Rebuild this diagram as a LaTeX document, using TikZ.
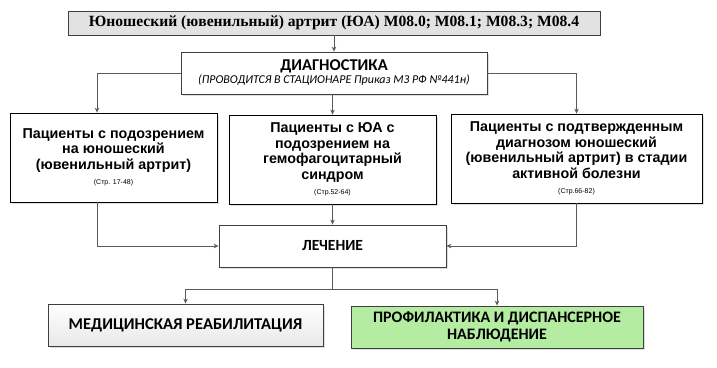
\documentclass[tikz,border=0pt]{standalone}
\usepackage{fontspec}
\setmainfont{Liberation Sans}
\newfontfamily\calibrifont{Carlito}
\newfontfamily\timesfont{Liberation Serif}
\usepackage{tikz}
\usetikzlibrary{arrows.meta,calc,positioning,shadows}
\definecolor{Edge}{HTML}{3F3F3F}
\definecolor{Wire}{HTML}{5A5A5A}
\definecolor{TitleFill}{HTML}{E2E2E2}
\definecolor{FollowGreen}{HTML}{B4ECA2}

\begin{document}
\begin{tikzpicture}[x=1pt,y=-1pt,
          box/.style={rectangle,draw=Edge,fill=white,line width=0.8pt,inner sep=0pt,
                      align=center,
                      drop shadow={shadow xshift=1.5pt,shadow yshift=-1.5pt,opacity=0.25}},
          patient/.style={box,draw=black,font=\bfseries\fontsize{14.3}{15.5}\selectfont},
          flow/.style={-{Stealth[length=5pt,width=4.5pt]},draw=Wire,line width=0.9pt}]
        \useasboundingbox (0,0) rectangle (717,367);
        \node[rectangle,draw=Edge,fill=TitleFill,line width=0.8pt,
              minimum width=532,minimum height=24,
              font=\timesfont\bfseries\fontsize{15.6}{18}\selectfont] (title) at (334,23)
          {Юношеский (ювенильный) артрит (ЮА) M08.0; M08.1; M08.3; M08.4};
        \node[box,minimum width=306,minimum height=42,font=\calibrifont] (diag) at (334,73)
          {{\bfseries\fontsize{16.5}{17}\selectfont ДИАГНОСТИКА}\\[1pt]
           {\itshape\fontsize{12}{13}\selectfont (ПРОВОДИТСЯ В СТАЦИОНАРЕ Приказ МЗ РФ №441н)}};
        % patient groups after diagnosis
        \node[patient,minimum width=207,minimum height=89] (suspected) at (113.5,157.5)
          {Пациенты с подозрением\\на юношеский\\(ювенильный артрит)\\
           {\mdseries\fontsize{7}{10}\selectfont (Стр. 17-48)}};
        \node[patient,minimum width=207,minimum height=89] (hemophago) at (332.5,159.5)
          {Пациенты с ЮА с\\подозрением на\\гемофагоцитарный\\синдром\\
           {\mdseries\fontsize{7}{8}\selectfont (Стр.52-64)}};
        \node[patient,minimum width=251,minimum height=89] (confirmed) at (576.5,158.5)
          {Пациенты с подтвержденным\\диагнозом юношеский\\(ювенильный артрит) в стадии\\активной болезни\\
           {\mdseries\fontsize{7}{8}\selectfont (Стр.66-82)}};
        \node[box,minimum width=227,minimum height=42,
              font=\calibrifont\bfseries\fontsize{15.5}{17}\selectfont] (treatment) at (332.5,246)
          {ЛЕЧЕНИЕ};
        \node[box,top color=white,bottom color=black!9,minimum width=275,minimum height=42,
              font=\calibrifont\bfseries\fontsize{16.5}{18}\selectfont] (rehab) at (185.5,325)
          {МЕДИЦИНСКАЯ РЕАБИЛИТАЦИЯ};
        \node[box,fill=FollowGreen,minimum width=292,minimum height=42,
              font=\calibrifont\bfseries\fontsize{16}{16.5}\selectfont] (follow) at (497,327)
          {ПРОФИЛАКТИКА И ДИСПАНСЕРНОЕ\\НАБЛЮДЕНИЕ};
        \coordinate (fork) at (332.5,289);
        \draw[flow] (title.south) -- (diag.north);
        \draw[flow] (diag.west) -| ([xshift=-16.5pt]suspected.north);
        \draw[flow] (diag.south -| hemophago) -- (hemophago.north);
        \draw[flow] (diag.east) -| (confirmed.north);
        \draw[flow] ([xshift=-16.5pt]suspected.south) |- (treatment.west);
        \draw[flow] (hemophago.south) -- (treatment.north);
        \draw[flow] (confirmed.south) |- (treatment.east);
        \draw[flow] (treatment.south) -- (fork) -| (rehab.north);
        \draw[flow] (fork) -| (follow.north);
      \end{tikzpicture}
\end{document}
